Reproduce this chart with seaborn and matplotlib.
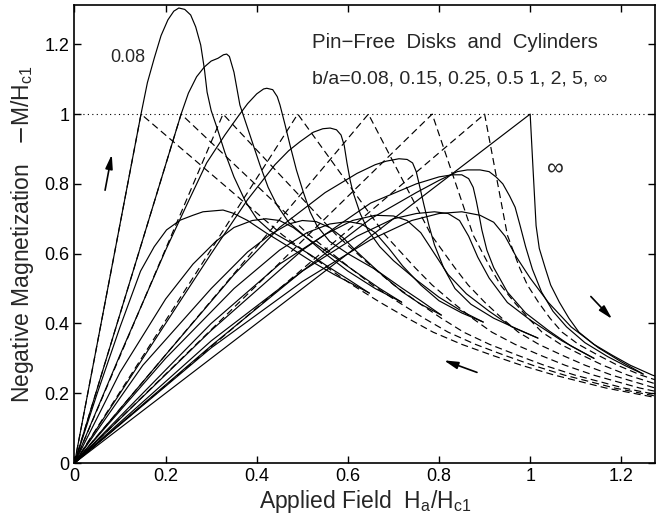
import matplotlib
matplotlib.use("Agg")
import matplotlib.pyplot as plt
import seaborn as sns
import pandas as pd

sns.set_theme(style="ticks")
plt.rcParams['font.family'] = ['Liberation Sans', 'DejaVu Sans']

# aspect ratios b/a
ratios = ["0.08", "0.15", "0.25", "0.5", "1", "2", "5"]

# dashed curves (equivalent ellipsoids): H values and -M values
dash_H = [
    [0, 0.146, 0.457, 0.556, 0.610, 0.670, 0.731, 0.787, 0.850, 0.916, 0.981, 1.053, 1.166, 1.294],
    [0, 0.234, 0.515, 0.605, 0.654, 0.711, 0.767, 0.820, 0.880, 0.943, 1.006, 1.075, 1.185, 1.310],
    [0, 0.326, 0.575, 0.656, 0.701, 0.753, 0.805, 0.854, 0.911, 0.972, 1.031, 1.098, 1.205, 1.327],
    [0, 0.490, 0.682, 0.748, 0.785, 0.829, 0.873, 0.916, 0.967, 1.022, 1.077, 1.139, 1.240, 1.357],
    [0, 0.645, 0.783, 0.835, 0.864, 0.900, 0.938, 0.974, 1.019, 1.070, 1.121, 1.179, 1.274],
    [0, 0.785, 0.875, 0.913, 0.935, 0.965, 0.996, 1.026, 1.067, 1.114, 1.160, 1.214, 1.304],
    [0, 0.900, 0.950, 0.977, 0.994, 1.018, 1.0435, 1.070, 1.106, 1.149, 1.192, 1.243, 1.329],
]
dash_M = [
    [0, 1.0, 0.653, 0.559, 0.51, 0.461, 0.415, 0.375, 0.34, 0.309, 0.28, 0.252, 0.215, 0.183],
    [0, 1.0, 0.653, 0.559, 0.51, 0.461, 0.415, 0.375, 0.34, 0.309, 0.28, 0.252, 0.215, 0.183],
    [0, 1.0, 0.653, 0.559, 0.51, 0.461, 0.415, 0.375, 0.34, 0.309, 0.28, 0.252, 0.215, 0.183],
    [0, 1.0, 0.653, 0.559, 0.51, 0.461, 0.415, 0.375, 0.34, 0.309, 0.28, 0.252, 0.215, 0.183],
    [0, 1.0, 0.653, 0.559, 0.51, 0.461, 0.415, 0.375, 0.34, 0.309, 0.28, 0.252, 0.215],
    [0, 1.0, 0.653, 0.559, 0.51, 0.461, 0.415, 0.375, 0.34, 0.309, 0.28, 0.252, 0.215],
    [0, 1.0, 0.653, 0.559, 0.51, 0.461, 0.415, 0.375, 0.34, 0.309, 0.28, 0.252, 0.215],
]

# increasing-field solid curves
inc_H = [
    [0, 0.146, 0.16, 0.175, 0.19, 0.205, 0.218, 0.229, 0.242, 0.255, 0.266, 0.277, 0.285, 0.291, 0.30,
     0.313, 0.33, 0.35, 0.375, 0.40, 0.43, 0.47, 0.52, 0.556, 0.60, 0.647],
    [0, 0.234, 0.25, 0.268, 0.285, 0.30, 0.315, 0.327, 0.334, 0.34, 0.35, 0.363, 0.385, 0.407, 0.425,
     0.444, 0.47, 0.51, 0.56, 0.62, 0.67, 0.718],
    [0, 0.10, 0.20, 0.25, 0.29, 0.33, 0.36, 0.38, 0.40, 0.415, 0.422, 0.435, 0.445, 0.451, 0.462, 0.473,
     0.487, 0.502, 0.517, 0.532, 0.56, 0.60, 0.66, 0.72, 0.76, 0.805],
    [0, 0.2, 0.3, 0.38, 0.44, 0.47, 0.495, 0.524, 0.545, 0.561, 0.575, 0.585, 0.592, 0.598, 0.605, 0.611,
     0.627, 0.645, 0.67, 0.70, 0.75, 0.80, 0.85, 0.897],
    [0, 0.2, 0.35, 0.45, 0.55, 0.62, 0.66, 0.684, 0.712, 0.73, 0.742, 0.75, 0.758, 0.767, 0.778, 0.79,
     0.81, 0.835, 0.87, 0.92, 0.97, 1.017],
    [0, 0.3, 0.5, 0.65, 0.75, 0.80, 0.829, 0.85, 0.865, 0.875, 0.882, 0.888, 0.894, 0.905, 0.92, 0.95,
     0.99, 1.04, 1.09, 1.14],
    [0, 0.3, 0.5, 0.65, 0.75, 0.80, 0.84, 0.862, 0.89, 0.91, 0.925, 0.94, 0.955, 0.967, 0.978, 0.99,
     1.005, 1.025, 1.05, 1.08, 1.12, 1.17, 1.21, 1.248],
]
inc_M = [
    [0, 1.0, 1.09, 1.16, 1.225, 1.27, 1.295, 1.304, 1.30, 1.284, 1.25, 1.198, 1.13, 1.063, 1.01,
     0.96, 0.89, 0.82, 0.75, 0.70, 0.665, 0.635, 0.595, 0.563, 0.527, 0.487],
    [0, 1.0, 1.06, 1.107, 1.135, 1.152, 1.16, 1.17, 1.172, 1.165, 1.12, 1.026, 0.94, 0.854, 0.79,
     0.74, 0.69, 0.645, 0.60, 0.545, 0.50, 0.461],
    [0, 0.31, 0.61, 0.75, 0.86, 0.94, 0.995, 1.03, 1.058, 1.072, 1.074, 1.07, 1.05, 1.026, 0.97, 0.911,
     0.84, 0.777, 0.72, 0.68, 0.635, 0.60, 0.555, 0.50, 0.465, 0.424],
    [0, 0.40, 0.60, 0.755, 0.855, 0.895, 0.921, 0.948, 0.958, 0.96, 0.955, 0.94, 0.91, 0.86, 0.81, 0.777,
     0.715, 0.665, 0.62, 0.58, 0.525, 0.475, 0.435, 0.404],
    [0, 0.31, 0.54, 0.675, 0.775, 0.83, 0.855, 0.865, 0.872, 0.87, 0.86, 0.835, 0.79, 0.739, 0.68, 0.625,
     0.56, 0.50, 0.455, 0.415, 0.385, 0.358],
    [0, 0.38, 0.61, 0.745, 0.80, 0.82, 0.826, 0.826, 0.815, 0.79, 0.75, 0.71, 0.668, 0.61, 0.56, 0.49,
     0.43, 0.38, 0.335, 0.30],
    [0, 0.336, 0.55, 0.70, 0.775, 0.81, 0.835, 0.84, 0.84, 0.835, 0.82, 0.80, 0.765, 0.733, 0.68, 0.62,
     0.555, 0.49, 0.435, 0.39, 0.345, 0.305, 0.278, 0.255],
]

# decreasing-field solid curves
dec_H = [
    [0, 0.05, 0.10, 0.145, 0.175, 0.202, 0.232, 0.26, 0.282, 0.326, 0.348, 0.38, 0.42, 0.47, 0.52, 0.57, 0.61, 0.647],
    [0, 0.10, 0.20, 0.26, 0.31, 0.35, 0.39, 0.42, 0.45, 0.48, 0.51, 0.55, 0.60, 0.66, 0.718],
    [0, 0.15, 0.30, 0.38, 0.43, 0.47, 0.50, 0.53, 0.56, 0.59, 0.62, 0.67, 0.72, 0.76, 0.805],
    [0, 0.20, 0.35, 0.45, 0.51, 0.56, 0.60, 0.63, 0.66, 0.69, 0.72, 0.76, 0.80, 0.85, 0.897],
    [0, 0.30, 0.45, 0.55, 0.61, 0.66, 0.70, 0.73, 0.76, 0.79, 0.82, 0.86, 0.91, 0.96, 1.017],
    [0, 0.30, 0.50, 0.62, 0.70, 0.75, 0.79, 0.82, 0.845, 0.865, 0.885, 0.91, 0.95, 1.0, 1.07, 1.14],
    [0, 0.30, 0.50, 0.65, 0.74, 0.80, 0.85, 0.89, 0.92, 0.945, 0.97, 1.0, 1.04, 1.09, 1.15, 1.20, 1.248],
]
dec_M = [
    [0, 0.20, 0.39, 0.55, 0.62, 0.668, 0.696, 0.71, 0.72, 0.725, 0.716, 0.695, 0.66, 0.62, 0.578, 0.54, 0.513, 0.487],
    [0, 0.26, 0.47, 0.57, 0.635, 0.675, 0.695, 0.70, 0.695, 0.675, 0.645, 0.60, 0.55, 0.50, 0.461],
    [0, 0.28, 0.50, 0.605, 0.655, 0.685, 0.695, 0.692, 0.675, 0.645, 0.605, 0.545, 0.49, 0.455, 0.424],
    [0, 0.30, 0.50, 0.61, 0.66, 0.685, 0.692, 0.685, 0.66, 0.615, 0.565, 0.51, 0.465, 0.43, 0.404],
    [0, 0.40, 0.57, 0.655, 0.695, 0.71, 0.708, 0.695, 0.66, 0.60, 0.54, 0.485, 0.435, 0.39, 0.358],
    [0, 0.35, 0.55, 0.65, 0.70, 0.715, 0.72, 0.715, 0.695, 0.65, 0.59, 0.53, 0.46, 0.41, 0.35, 0.30],
    [0, 0.33, 0.52, 0.64, 0.695, 0.715, 0.72, 0.71, 0.69, 0.65, 0.59, 0.53, 0.46, 0.39, 0.33, 0.29, 0.255],
]

# infinite cylinder
inf_H = [0, 1.0, 1.006, 1.013, 1.02, 1.033, 1.045, 1.064, 1.085, 1.107, 1.14, 1.18, 1.22, 1.268, 1.35]
inf_M = [0, 1.0, 0.85, 0.68, 0.615, 0.559, 0.51, 0.461, 0.415, 0.375, 0.34, 0.309, 0.28, 0.252, 0.215]

xticks = [0, 0.2, 0.4, 0.6, 0.8, 1.0, 1.2]
xticklabels = ["0", "0.2", "0.4", "0.6", "0.8", "1", "1.2"]
yticks = [0, 0.2, 0.4, 0.6, 0.8, 1.0, 1.2]
yticklabels = ["0", "0.2", "0.4", "0.6", "0.8", "1", "1.2"]

fig = plt.figure(figsize=(6.65, 5.22), dpi=100)
ax = fig.add_axes([0.112, 0.113, 0.873, 0.877])

lw = 0.85
for i in range(len(ratios)):
    d = pd.DataFrame({"H": dash_H[i], "M": dash_M[i]})
    sns.lineplot(data=d, x="H", y="M", ax=ax, sort=False, estimator=None,
                 color="black", lw=lw, linestyle=(0, (6, 3.5)))
    d = pd.DataFrame({"H": inc_H[i], "M": inc_M[i]})
    sns.lineplot(data=d, x="H", y="M", ax=ax, sort=False, estimator=None,
                 color="black", lw=lw)
    d = pd.DataFrame({"H": dec_H[i], "M": dec_M[i]})
    sns.lineplot(data=d, x="H", y="M", ax=ax, sort=False, estimator=None,
                 color="black", lw=lw)
d = pd.DataFrame({"H": inf_H, "M": inf_M})
sns.lineplot(data=d, x="H", y="M", ax=ax, sort=False, estimator=None,
             color="black", lw=lw)

ax.axhline(1.0, color="black", lw=0.8, linestyle=(0, (1, 3)))

ax.set_xlim(0, 1.274)
ax.set_ylim(0, 1.312)
ax.set_xticks(xticks)
ax.set_xticklabels(xticklabels)
ax.set_yticks(yticks)
ax.set_yticklabels(yticklabels)
ax.tick_params(direction="in", length=5, width=1, top=True, right=True,
               labelsize=13, colors="black")
for s in ax.spines.values():
    s.set_linewidth(1.2)
    s.set_color("black")

ax.set_xlabel(r"Applied Field  H$_\mathregular{a}$/H$_\mathregular{c1}$", fontsize=16.5, labelpad=2)
ax.set_ylabel(r"Negative Magnetization   $-$M/H$_\mathregular{c1}$", fontsize=16.5, labelpad=6)

ax.text(0.521, 1.189, "Pin\u2212Free  Disks  and  Cylinders", fontsize=14.7, va="baseline", ha="left")
ax.text(0.521, 1.089, "b/a=0.08, 0.15, 0.25, 0.5 1, 2, 5, \u221e", fontsize=14, va="baseline", ha="left")
ax.text(0.117, 1.15, "0.08", fontsize=13, va="baseline", ha="center")
ax.text(1.055, 0.842, "\u221e", fontsize=17, va="center", ha="center")

arrow = dict(arrowstyle="-|>,head_length=0.7,head_width=0.18", color="black", lw=1.2)
ax.annotate("", xy=(0.083, 0.892), xytext=(0.066, 0.774), arrowprops=arrow)
ax.annotate("", xy=(1.184, 0.407), xytext=(1.129, 0.483), arrowprops=arrow)
ax.annotate("", xy=(0.805, 0.297), xytext=(0.889, 0.257), arrowprops=arrow)

fig.savefig("out.png", dpi=100)
